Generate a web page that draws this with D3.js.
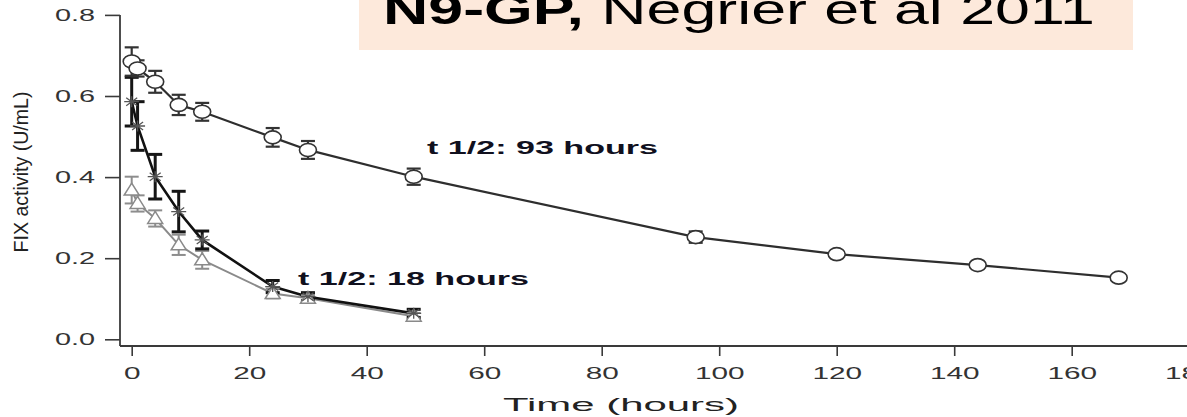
<!DOCTYPE html>
<html>
<head>
<meta charset="utf-8">
<script src="https://cdn.jsdelivr.net/npm/d3@7"></script>
<style>
  html, body { margin: 0; padding: 0; background: #ffffff; }
  svg { display: block; font-family: "Liberation Sans", Arial, Helvetica, sans-serif; }
</style>
</head>
<body>
<svg id="chart" width="1187" height="417"></svg>
<script>
// Sampling times (hours)
const hoursLong = [0, 1, 4, 8, 12, 24, 30, 48, 96, 120, 144, 168];
const hoursShort = [0, 1, 4, 8, 12, 24, 30, 48];

// N9-GP (open circles): mean FIX activity and SD (U/mL)
const circleMean = [0.685, 0.668, 0.635, 0.578, 0.561, 0.498, 0.467, 0.401, 0.252, 0.210, 0.183, 0.152];
const circleErr  = [0.035, 0.020, 0.027, 0.025, 0.022, 0.023, 0.022, 0.020, 0.014, 0.008, 0.008, 0.008];

// Comparator (asterisks)
const starMean = [0.586, 0.526, 0.401, 0.315, 0.245, 0.130, 0.105, 0.064];
const starErr  = [0.060, 0.060, 0.055, 0.050, 0.022, 0.015, 0.010, 0.010];

// Comparator (open triangles)
const triMean = [0.368, 0.335, 0.298, 0.233, 0.196, 0.113, 0.101, 0.057];
const triErr  = [0.033, 0.020, 0.020, 0.025, 0.022, 0.012, 0.008, 0.008];

// Axis ticks
const xTicks = [0, 20, 40, 60, 80, 100, 120, 140, 160, 180];
const yTicks = [0.0, 0.2, 0.4, 0.6, 0.8];

// Annotations
const halfLifeLong = "t 1/2: 93 hours";
const halfLifeShort = "t 1/2: 18 hours";
const titleBold = "N9-GP,";
const titleRest = " Negrier et al 2011";

const svg = d3.select("#chart");
const stretch = 1.75;          // horizontal stretch of the figure's lettering
const axisX = 120, axisY = 346;

const x = d3.scaleLinear().domain([0, 180]).range([131.7, 1189.2]);
const y = d3.scaleLinear().domain([0, 0.8]).range([339.3, 14.9]);

// ---- axes ----
const yAxis = svg.append("g")
  .attr("transform", `translate(${axisX},0)`)
  .call(d3.axisLeft(y).tickValues(yTicks).tickFormat(d3.format(".1f")).tickSize(15).tickPadding(10));
yAxis.select(".domain").remove();
yAxis.selectAll(".tick line").attr("stroke", "#3a3a3a").attr("stroke-width", 1.6);
yAxis.selectAll(".tick text")
  .attr("font-size", 16.5).attr("fill", "#333")
  .attr("font-family", "Liberation Sans, Arial, sans-serif")
  .attr("x", -25 / stretch)
  .attr("transform", `scale(${stretch},1)`);

const xAxis = svg.append("g")
  .attr("transform", `translate(0,${axisY})`)
  .call(d3.axisBottom(x).tickValues(xTicks).tickFormat(d3.format("d")).tickSize(10));
xAxis.select(".domain").remove();
xAxis.selectAll(".tick line").attr("stroke", "#3a3a3a").attr("stroke-width", 1.6);
xAxis.selectAll(".tick text")
  .attr("font-size", 17).attr("fill", "#333")
  .attr("font-family", "Liberation Sans, Arial, sans-serif")
  .attr("y", 33).attr("dy", 0)
  .attr("transform", `scale(${stretch},1)`);

// axis lines (L-shaped frame)
svg.append("line")
  .attr("x1", axisX).attr("x2", axisX)
  .attr("y1", y(0.8)).attr("y2", axisY)
  .attr("stroke", "#3a3a3a").attr("stroke-width", 1.8);
svg.append("line")
  .attr("x1", axisX).attr("x2", 1187)
  .attr("y1", axisY).attr("y2", axisY)
  .attr("stroke", "#3a3a3a").attr("stroke-width", 1.8);

// axis titles
svg.append("text")
  .attr("x", 621).attr("y", 411)
  .attr("text-anchor", "middle")
  .attr("font-size", 17.5).attr("fill", "#222")
  .attr("textLength", 236).attr("lengthAdjust", "spacingAndGlyphs")
  .text("Time (hours)");

svg.append("text")
  .attr("transform", "translate(28,172) rotate(-90)")
  .attr("text-anchor", "middle")
  .attr("font-size", 20).attr("fill", "#222")
  .attr("textLength", 161).attr("lengthAdjust", "spacingAndGlyphs")
  .text("FIX activity (U/mL)");

// ---- series ----
function pack(times, mean, err) {
  return times.map((t, i) => ({ t, v: mean[i], e: err[i] }));
}
const circles = pack(hoursLong, circleMean, circleErr);
const stars = pack(hoursShort, starMean, starErr);
const tris = pack(hoursShort, triMean, triErr);

const line = d3.line().x(d => x(d.t)).y(d => y(d.v));

svg.append("path").datum(circles).attr("d", line)
  .attr("fill", "none").attr("stroke", "#2e2e2e").attr("stroke-width", 2.2);
svg.append("path").datum(tris).attr("d", line)
  .attr("fill", "none").attr("stroke", "#8a8a8a").attr("stroke-width", 2);
svg.append("path").datum(stars).attr("d", line)
  .attr("fill", "none").attr("stroke", "#111").attr("stroke-width", 2.6);

function errorBars(data, color, width, capHalf) {
  const g = svg.append("g").attr("stroke", color).attr("stroke-width", width).attr("fill", "none");
  data.forEach(d => {
    const cx = x(d.t), top = y(d.v + d.e), bot = y(d.v - d.e);
    g.append("line").attr("x1", cx).attr("x2", cx).attr("y1", top).attr("y2", bot);
    g.append("line").attr("x1", cx - capHalf).attr("x2", cx + capHalf).attr("y1", top).attr("y2", top);
    g.append("line").attr("x1", cx - capHalf).attr("x2", cx + capHalf).attr("y1", bot).attr("y2", bot);
  });
}
errorBars(tris, "#8d8d8d", 2, 7);
errorBars(stars, "#151515", 3, 7);
errorBars(circles, "#333", 2.2, 7);

// triangle markers
svg.append("g").selectAll("path").data(tris).join("path")
  .attr("transform", d => `translate(${x(d.t)},${y(d.v)})`)
  .attr("d", "M0,-7L7.5,5L-7.5,5Z")
  .attr("fill", "#fff").attr("stroke", "#8a8a8a").attr("stroke-width", 1.5);

// asterisk markers
svg.append("g").selectAll("path").data(stars).join("path")
  .attr("transform", d => `translate(${x(d.t)},${y(d.v)})`)
  .attr("d", "M-7.5,0H7.5M0,-5.5V5.5M-5.5,-4L5.5,4M-5.5,4L5.5,-4")
  .attr("fill", "none").attr("stroke", "#555").attr("stroke-width", 1.3);

// circle markers
svg.append("g").selectAll("ellipse").data(circles).join("ellipse")
  .attr("cx", d => x(d.t)).attr("cy", d => y(d.v))
  .attr("rx", 8.5).attr("ry", 6.5)
  .attr("fill", "#fff").attr("stroke", "#333").attr("stroke-width", 1.6);

// half-life annotations
svg.append("text")
  .attr("x", 427).attr("y", 154)
  .attr("font-size", 17.5).attr("font-weight", "bold").attr("fill", "#10101e")
  .attr("textLength", 231).attr("lengthAdjust", "spacingAndGlyphs")
  .text(halfLifeLong);
svg.append("text")
  .attr("x", 298).attr("y", 285)
  .attr("font-size", 17.5).attr("font-weight", "bold").attr("fill", "#10101e")
  .attr("textLength", 231).attr("lengthAdjust", "spacingAndGlyphs")
  .text(halfLifeShort);

// title banner
svg.append("rect")
  .attr("x", 359).attr("y", -5).attr("width", 774).attr("height", 55)
  .attr("fill", "#fde9db");
const title = svg.append("text")
  .attr("x", 383).attr("y", 24)
  .attr("font-size", 42).attr("fill", "#000")
  .attr("textLength", 712).attr("lengthAdjust", "spacingAndGlyphs");
title.append("tspan").attr("font-weight", "bold").text(titleBold);
title.append("tspan").text(titleRest);
</script>
</body>
</html>
